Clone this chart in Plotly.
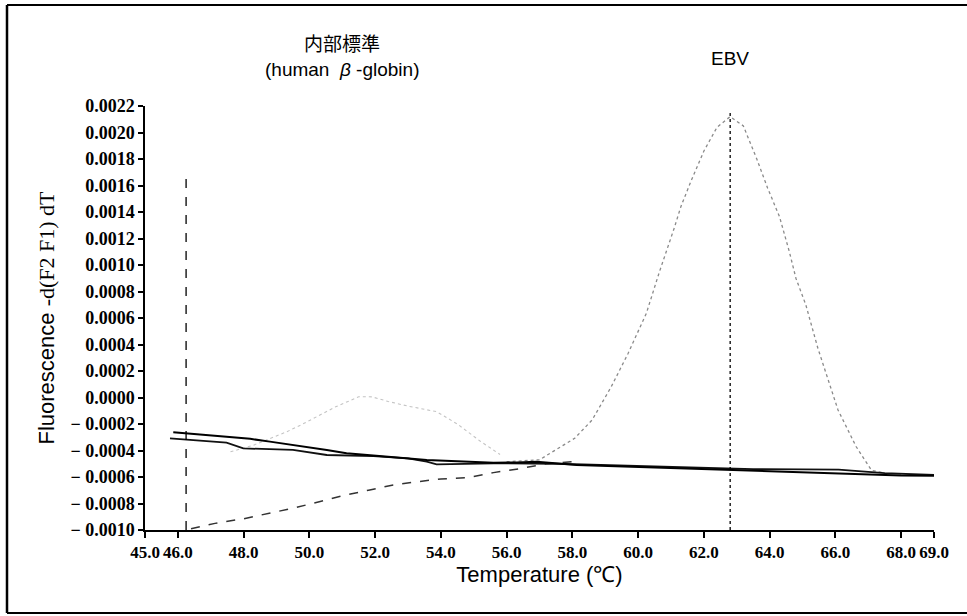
import plotly.graph_objects as go

# ---- data ----
x_tickvals = [45, 46, 48, 50, 52, 54, 56, 58, 60, 62, 64, 66, 68, 69]
x_ticktext = ["45.0", "46.0", "48.0", "50.0", "52.0", "54.0", "56.0", "58.0",
              "60.0", "62.0", "64.0", "66.0", "68.0", "69.0"]
y_tickvals = [0.0022, 0.0020, 0.0018, 0.0016, 0.0014, 0.0012, 0.0010, 0.0008,
              0.0006, 0.0004, 0.0002, 0.0000, -0.0002, -0.0004, -0.0006,
              -0.0008, -0.0010]
y_ticktext = ["0.0022", "0.0020", "0.0018", "0.0016", "0.0014", "0.0012",
              "0.0010", "0.0008", "0.0006", "0.0004", "0.0002", "0.0000",
              "\u2212 0.0002", "\u2212 0.0004", "\u2212 0.0006", "\u2212 0.0008",
              "\u2212 0.0010"]

# baseline curve A (dark)
a_T = [45.86, 46.5, 47.48, 48.2, 48.8, 49.6, 50.53, 51.13, 52.0, 52.8, 53.57,
       54.5, 55.6, 56.3, 56.91, 58.13, 59.5, 61.0, 62.5, 64.0, 65.5, 67.0, 68.0, 69.0]
a_y = [-2.63, -2.75, -2.96, -3.12, -3.33, -3.6, -3.96, -4.2, -4.4, -4.55, -4.72,
       -4.82, -4.92, -4.9, -4.85, -5.09, -5.2, -5.3, -5.45, -5.58, -5.7, -5.8, -5.88, -5.9]
# baseline curve B (dark)
b_T = [45.76, 46.5, 47.48, 47.99, 48.8, 49.5, 50.53, 51.95, 53.0, 53.57, 53.87,
       55.6, 57.5, 59.5, 61.5, 63.5, 65.0, 66.1, 67.5, 69.0]
b_y = [-3.08, -3.2, -3.4, -3.84, -3.9, -3.96, -4.34, -4.42, -4.6, -4.84, -5.04,
       -4.97, -5.0, -5.15, -5.3, -5.4, -5.42, -5.45, -5.7, -5.85]
# EBV melting peak (faint)
ebv_T = [56.0, 57.0, 58.07, 58.6, 59.18, 59.69, 60.25, 60.65, 61.1, 61.3, 61.62,
         62.0, 62.4, 62.8, 63.2, 63.61, 63.94, 64.3, 64.6, 64.8, 65.1, 65.47,
         66.08, 66.63, 67.1, 67.5]
ebv_y = [-4.85, -4.7, -3.08, -1.7, 0.8, 3.3, 6.35, 9.5, 12.8, 14.4, 16.4,
         18.6, 20.4, 21.2, 20.5, 18.0, 15.8, 13.65, 11.0, 9.0, 7.0, 3.7,
         -0.94, -3.7, -5.5, -5.7]
# lower rising curve
low_T = [46.4, 47.13, 48.0, 48.8, 49.6, 50.3, 51.1, 51.8, 52.55, 53.3, 54.0,
         54.8, 55.6, 56.45, 57.2, 58.0]
low_y = [-9.9, -9.5, -9.15, -8.74, -8.3, -7.86, -7.36, -7.0, -6.6, -6.35, -6.15,
         -6.05, -5.67, -5.35, -5.0, -4.85]
# internal standard (human beta-globin) peak (faint)
ist_T = [47.6, 48.3, 48.9, 49.3, 49.8, 50.26, 50.8, 51.23, 51.5, 51.9, 52.4,
         53.0, 53.87, 54.5, 55.2, 55.8]
ist_y = [-4.1, -3.6, -3.0, -2.6, -2.0, -1.4, -0.7, -0.24, 0.06, 0.05, -0.3,
         -0.65, -1.07, -2.0, -3.3, -4.3]
# vertical Tm marker lines
vline_T = [46.25, 62.8]
vline_top = [0.00166, 0.00215]
y_bottom = -0.0010

scale = 1e-4
fig = go.Figure()

def add(xs, ys, color, width, dash):
    fig.add_trace(go.Scatter(x=xs, y=[v * scale for v in ys], mode="lines",
                             line=dict(color=color, width=width, dash=dash),
                             showlegend=False, hoverinfo="skip"))

add(ist_T, ist_y, "#c4c4c4", 1.1, "dot")
add(ebv_T, ebv_y, "#8a8a8a", 1.3, "dot")
add(low_T, low_y, "#333333", 1.5, "dash")
add(b_T, b_y, "#111111", 1.8, "solid")
add(a_T, a_y, "#000000", 2.0, "solid")

for t, top in zip(vline_T, vline_top):
    fig.add_trace(go.Scatter(x=[t, t], y=[y_bottom, top], mode="lines",
                             line=dict(color="#000000", width=1.3,
                                       dash="dash" if t < 50 else "dot"),
                             showlegend=False, hoverinfo="skip"))

xtickfont = dict(family="Liberation Serif", size=17, color="#000000", weight="bold")
ytickfont = dict(family="Liberation Serif", size=18, color="#000000", weight="bold")
fig.update_layout(
    width=967, height=616,
    margin=dict(l=145, r=33, t=106, b=86),
    paper_bgcolor="white", plot_bgcolor="white",
    xaxis=dict(range=[45, 69], tickvals=x_tickvals, ticktext=x_ticktext,
               tickangle=0, automargin=False,
               showgrid=False, zeroline=False, showline=True, linecolor="black",
               linewidth=1.5, ticks="outside", ticklen=6, tickwidth=1.5,
               tickcolor="black", tickfont=xtickfont,
               title=dict(text="Temperature (\u2103)",
                          font=dict(family="Liberation Sans", size=22, color="black"),
                          standoff=2)),
    yaxis=dict(range=[-0.0010, 0.0022], tickvals=y_tickvals, ticktext=y_ticktext,
               automargin=False,
               showgrid=False, zeroline=False, showline=True, linecolor="black",
               linewidth=1.5, ticks="outside", ticklen=5, tickwidth=1.5,
               tickcolor="black", tickfont=ytickfont,
               title=dict(text="Fluorescence <span style='font-family:Liberation Serif'>-d(F2 F1) dT</span>",
                          font=dict(family="Liberation Sans", size=22, color="black"),
                          standoff=10)),
)

plot_h = 616 - 106 - 86

def py_(yp):
    return (616 - 86 - yp) / plot_h

def px(xp):
    return (xp - 145) / (967 - 145 - 33)

fig.add_annotation(x=51.0, xref="x", y=py_(43), yref="paper", yanchor="middle",
                   text="内部標準", showarrow=False,
                   font=dict(family="Noto Sans CJK JP", size=19, color="black"))
fig.add_annotation(x=51.0, xref="x", y=py_(70), yref="paper", yanchor="middle",
                   text="(human  <i>\u03b2</i> -globin)", showarrow=False,
                   font=dict(family="Liberation Sans", size=19, color="black"))
fig.add_annotation(x=62.8, xref="x", y=py_(58), yref="paper", yanchor="middle",
                   text="EBV", showarrow=False,
                   font=dict(family="Liberation Sans", size=19, color="black"))

# scan frame around the figure
fig.add_shape(type="line", xref="paper", yref="paper", x0=px(7), x1=px(7),
              y0=py_(5), y1=py_(613), line=dict(color="black", width=2.5))
fig.add_shape(type="line", xref="paper", yref="paper", x0=px(7), x1=px(967),
              y0=py_(5), y1=py_(5), line=dict(color="black", width=2))
fig.add_shape(type="line", xref="paper", yref="paper", x0=px(7), x1=px(967),
              y0=py_(613), y1=py_(613), line=dict(color="black", width=2))

fig.write_html("out.html")
